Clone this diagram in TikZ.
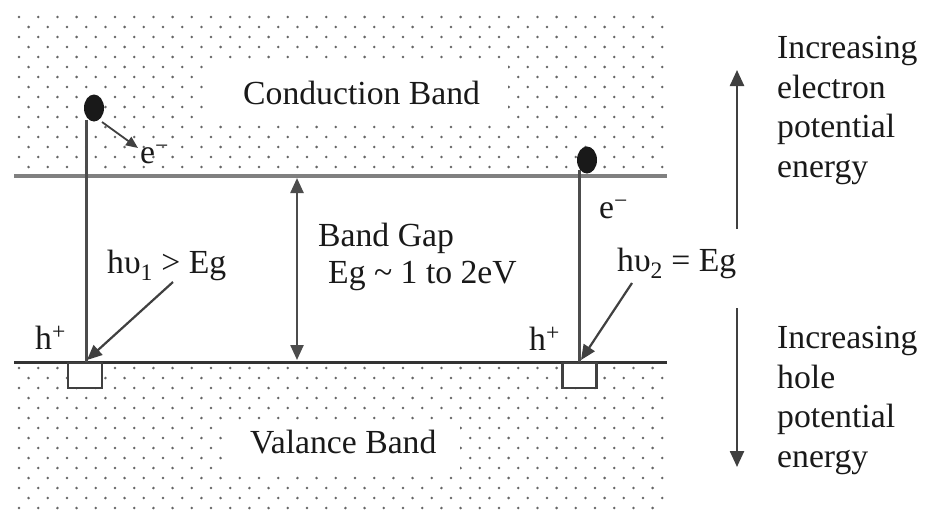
\documentclass[tikz,border=0pt]{standalone}
\usepackage{fontspec}
\setmainfont{Liberation Serif}
\usetikzlibrary{arrows.meta,shapes.geometric}
\begin{document}
\begin{tikzpicture}[x=1pt,y=-1pt,
  lab/.style={font=\fontsize{33.7}{39.5}\selectfont, inner sep=0pt, anchor=base west, text=black!90},
  multilab/.style={font=\fontsize{33.7}{39.5}\selectfont, inner sep=0pt, anchor=north west, align=left, text=black!90},
  dotc/.style={fill=black!60},
  electron/.style={ellipse, fill=black!90, minimum width=20pt, minimum height=27pt, inner sep=0pt},
  holebox/.style={draw=black!75, line width=2.4pt, fill=white, minimum width=34pt, minimum height=25pt, inner sep=0pt, anchor=north},
  bandline/.style={line width=4pt},
  vline/.style={draw=black!70, line width=3pt},
  arr/.style={draw=black!75, line width=2.2pt, -{Triangle[length=15pt,width=13pt]}},
  darr/.style={draw=black!70, line width=2.4pt, {Triangle[length=15pt,width=13pt]}-{Triangle[length=15pt,width=13pt]}}
]
\useasboundingbox (0,0) rectangle (925,514);
\fill[white] (0,0) rectangle (925,514);

% dotted conduction band
\begin{scope}
\clip (14,12) rectangle (666,174);
\foreach \j in {0,...,16}{
  \foreach \i in {0,...,35}{
    \fill[dotc] ({19+19.2*\i+9.6*mod(\j,2)},{17+10*\j}) circle (1.4pt);
  }
}
\end{scope}
% dotted valence band
\begin{scope}
\clip (14,364) rectangle (666,514);
\foreach \j in {0,...,15}{
  \foreach \i in {0,...,35}{
    \fill[dotc] ({19+19.2*\i+9.6*mod(\j,2)},{368+10*\j}) circle (1.4pt);
  }
}
\end{scope}
% white patches behind labels
\fill[white] (205,64) rectangle (508,124);
\fill[white] (225,423) rectangle (460,470);

% band edges
\coordinate (cbL) at (14,176);
\coordinate (cbR) at (667,176);
\coordinate (vbL) at (14,362);
\coordinate (vbR) at (667,362);
\draw[bandline, draw=black!50] (cbL) -- (cbR);
\draw[bandline, draw=black!80, line width=3pt] (vbL) -- (vbR);

% band labels
\node[lab] (cb) at (243,104) {Conduction Band};
\node[lab] (vb) at (250,453) {Valance Band};

% left transition
\node[electron] (e1) at (94,108) {};
\node[holebox] (h1) at (85,362) {};
\draw[vline] (86,120) -- (86,362);
\coordinate (e1a) at (102,122);
\coordinate (e1b) at (138,148);
\draw[arr, line width=1.8pt, -{Triangle[length=12pt,width=10pt]}] (e1a) -- (e1b);
\node[lab] (em1) at (140,163) {e\textsuperscript{−}};
\node[lab] (hv1) at (107,273) {hυ\textsubscript{1} > Eg};
\coordinate (hv1s) at (173,282);
\coordinate (hv1t) at (87,360);
\draw[arr] (hv1s) -- (hv1t);
\node[lab] (hp1) at (35,349) {h\textsuperscript{+}};

% band gap
\coordinate (gT) at (297,178);
\coordinate (gB) at (297,360);
\draw[darr] (gT) -- (gB);
\node[lab] (bg) at (318,246) {Band Gap};
\node[lab] (eg) at (328,283) {Eg \textasciitilde{} 1 to 2eV};

% right transition
\node[electron] (e2) at (587,160) {};
\node[holebox] (h2) at (579.5,362) {};
\draw[vline] (579,170) -- (579,362);
\node[lab] (em2) at (599,218) {e\textsuperscript{−}};
\node[lab] (hv2) at (617,271) {hυ\textsubscript{2} = Eg};
\coordinate (hv2s) at (632,283);
\coordinate (hv2t) at (581,360);
\draw[arr] (hv2s) -- (hv2t);
\node[lab] (hp2) at (529,350) {h\textsuperscript{+}};

% energy direction arrows
\coordinate (upS) at (737,229);
\coordinate (upE) at (737,70);
\coordinate (dnS) at (737,308);
\coordinate (dnE) at (737,467);
\draw[arr, line width=2.4pt, -{Triangle[length=16pt,width=14pt]}] (upS) -- (upE);
\draw[arr, line width=2.4pt, -{Triangle[length=16pt,width=14pt]}] (dnS) -- (dnE);
\node[multilab] (inc1) at (777,36) {Increasing\\electron\\potential\\energy};
\node[multilab] (inc2) at (777,326) {Increasing\\hole\\potential\\energy};
\end{tikzpicture}
\end{document}
